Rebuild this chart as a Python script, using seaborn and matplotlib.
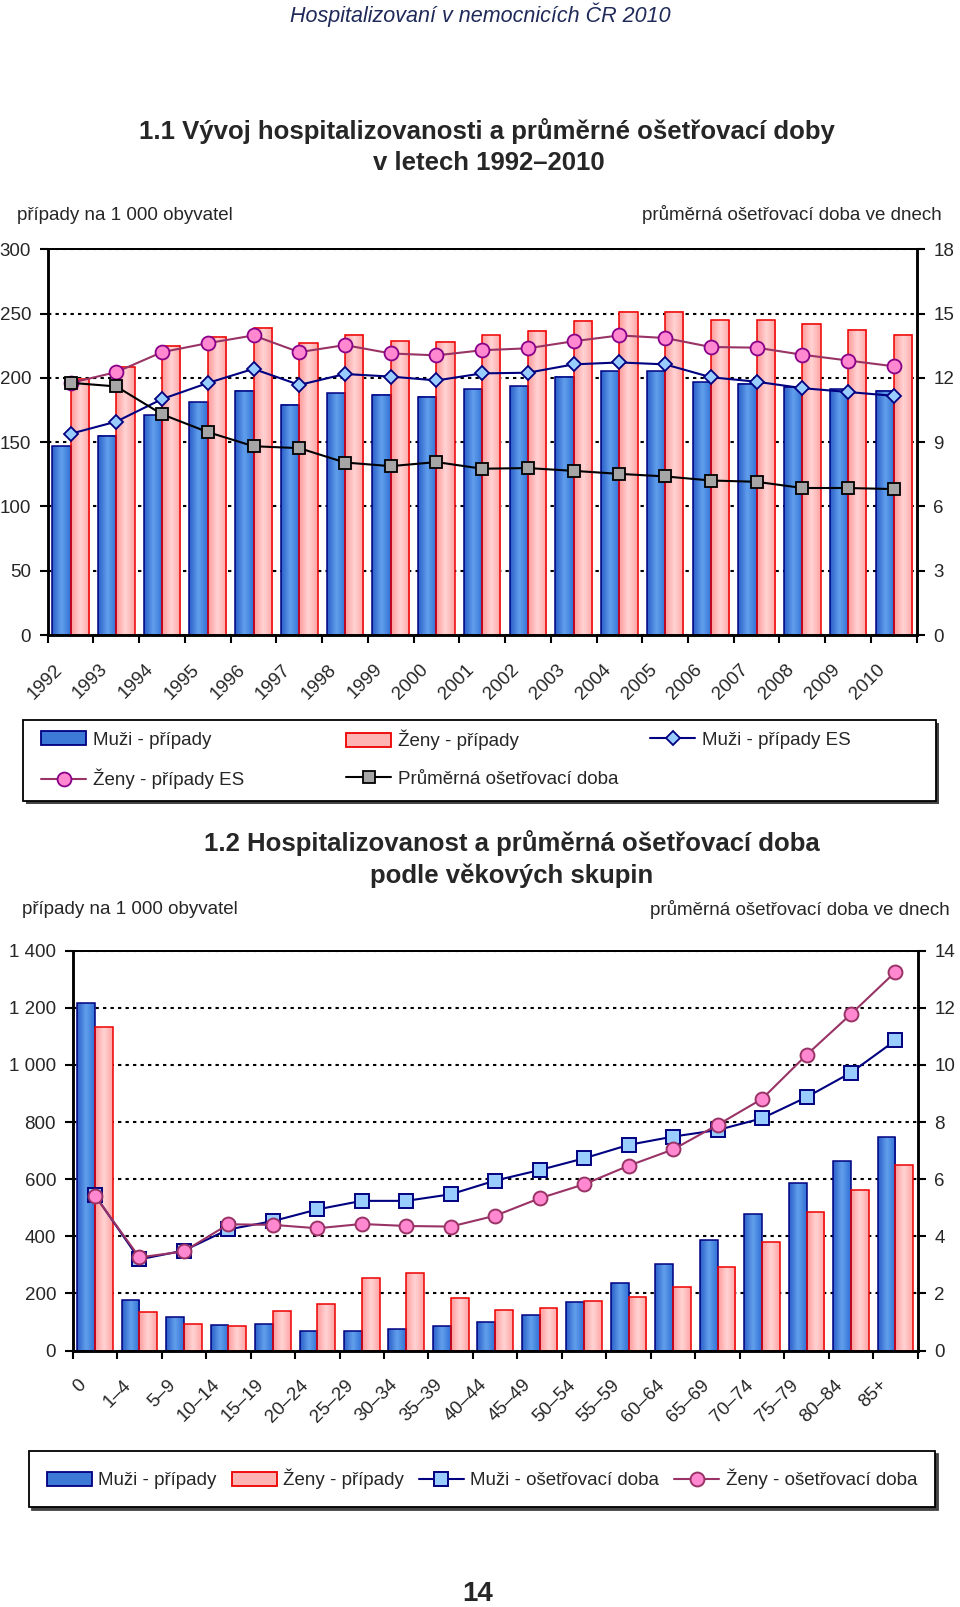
import numpy as np
import pandas as pd
import matplotlib
matplotlib.use("Agg")
import matplotlib.pyplot as plt
from matplotlib.colors import LinearSegmentedColormap
from matplotlib.patches import Patch, Rectangle
from matplotlib.lines import Line2D
from matplotlib.transforms import ScaledTranslation
import seaborn as sns

# --- data: 1.1 development 1992-2010 ---
roky = ['1992', '1993', '1994', '1995', '1996', '1997', '1998', '1999', '2000', '2001',
        '2002', '2003', '2004', '2005', '2006', '2007', '2008', '2009', '2010']
muzi_pripady = [147, 155, 171, 181, 190, 179, 188, 187, 185.5, 191,
                193.5, 201, 205, 205, 196.5, 195.5, 193, 191, 190]
zeny_pripady = [199.5, 208.5, 225, 232, 239, 227, 233.5, 228.5, 228, 233,
                236.5, 244.5, 251.5, 251.5, 245, 245, 242, 237.5, 233.5]
muzi_es = [156.5, 166, 183.5, 196, 207, 194.5, 203, 201, 198, 203.5,
           204, 210.5, 212, 210.5, 200.5, 197, 192, 189, 186]
zeny_es = [196, 204.5, 220, 227, 233, 220, 225.5, 219, 217.5, 221.5,
           223, 228.5, 233, 231, 224, 223.5, 218, 213.5, 209]
prum_doba = [11.77, 11.6, 10.3, 9.47, 8.81, 8.72, 8.05, 7.88, 8.07, 7.76,
             7.79, 7.66, 7.52, 7.40, 7.21, 7.15, 6.86, 6.86, 6.81]

# --- data: 1.2 by age group ---
vek = ['0', '1–4', '5–9', '10–14', '15–19', '20–24', '25–29', '30–34', '35–39', '40–44',
       '45–49', '50–54', '55–59', '60–64', '65–69', '70–74', '75–79', '80–84', '85+']
muzi_vek = [1218, 177, 116, 89, 93, 70, 69, 77, 86, 100,
            123, 171, 235, 303, 387, 478, 585, 664, 747]
zeny_vek = [1134, 135, 93, 85, 138, 163, 255, 272, 184, 143,
            150, 173, 186, 223, 291, 379, 486, 562, 649]
muzi_doba_vek = [5.44, 3.19, 3.50, 4.24, 4.53, 4.94, 5.24, 5.24, 5.47, 5.95,
                 6.32, 6.73, 7.20, 7.49, 7.72, 8.13, 8.87, 9.73, 10.86]
zeny_doba_vek = [5.42, 3.26, 3.47, 4.42, 4.40, 4.28, 4.43, 4.36, 4.34, 4.72,
                 5.33, 5.82, 6.47, 7.04, 7.90, 8.81, 10.35, 11.78, 13.26]

W, H = 960, 1607
NAVY = '#000080'
RED = '#ee0000'
PLUM = '#993366'
BLUE_GRAD = ['#2a5ec8', '#62a0ec', '#3270d6']
PINK_GRAD = ['#ff9a9a', '#ffd4d4', '#ffa4a4']
FS = 13.5
TITLE_FS = 18.5

sns.set_style("ticks")
plt.rcParams['font.family'] = ['Liberation Sans', 'DejaVu Sans']


def fx(x):
    return x / W


def fy(y):
    return 1 - y / H


def gradient_bars(ax, container, colors, edge):
    '''
    replaces flat bar fill by a horizontal gradient like the excel original
    '''
    cmap = LinearSegmentedColormap.from_list('g', colors)
    grad = np.linspace(0, 1, 64).reshape(1, -1)
    for bar in container:
        x0, y0 = bar.get_x(), bar.get_y()
        w, h = bar.get_width(), bar.get_height()
        ax.imshow(grad, extent=[x0, x0 + w, y0, y0 + h], aspect='auto',
                  cmap=cmap, zorder=0.9, interpolation='bicubic')
        bar.set_facecolor('none')
        bar.set_edgecolor(edge)
        bar.set_linewidth(1.1)
        bar.set_zorder(1)


def style_axes(ax, ax2, ylim, yticks, ylim2, yticks2, labels):
    n = len(labels)
    ax.set_xlim(-0.5, n - 0.5)
    ax.set_ylim(*ylim)
    ax.set_yticks(yticks)
    ax2.set_ylim(*ylim2)
    ax2.set_yticks(yticks2)
    ax.set_xticks(np.arange(n))
    ax.set_xticklabels(labels)
    ax.set_xticks(np.arange(-0.5, n, 1), minor=True)
    ax.set_xlabel('')
    ax.set_ylabel('')
    ax2.set_xlabel('')
    ax2.set_ylabel('')
    ax.yaxis.grid(True, color='black', linewidth=1.5, linestyle=(0, (1.6, 2.0)))
    ax.xaxis.grid(False)
    ax.set_axisbelow(True)
    for a in (ax, ax2):
        for s in a.spines.values():
            s.set_visible(True)
            s.set_color('black')
            s.set_linewidth(1.8)
    ax.spines['top'].set_linewidth(1.3)
    ax2.spines['top'].set_linewidth(1.3)
    ax.tick_params(axis='y', direction='out', length=5.5, width=1.5, color='black',
                   labelsize=FS, pad=6.5)
    ax2.tick_params(axis='y', direction='out', length=5.5, width=1.5, color='black',
                    labelsize=FS, pad=6.5)
    ax.tick_params(axis='x', which='major', length=0, labelsize=FS, pad=23)
    ax.tick_params(axis='x', which='minor', direction='out', length=6, width=1.5, color='black')
    off = ScaledTranslation(-8 / 72, 0, ax.figure.dpi_scale_trans)
    for lbl in ax.get_xticklabels():
        lbl.set_rotation(45)
        lbl.set_ha('right')
        lbl.set_va('center')
        lbl.set_rotation_mode('anchor')
        lbl.set_transform(lbl.get_transform() + off)


fig = plt.figure(figsize=(W / 100, H / 100), dpi=100)
fig.patch.set_facecolor('white')

# ---------------- chart 1.1 ----------------
ax = fig.add_axes([fx(47.7), fy(635), fx(916.7) - fx(47.7), fy(249.3) - fy(635)])
df1 = pd.DataFrame({'rok': roky * 2,
                    'pripady': muzi_pripady + zeny_pripady,
                    'skupina': ['Muži - případy'] * len(roky) + ['Ženy - případy'] * len(roky)})
sns.barplot(data=df1, x='rok', y='pripady', hue='skupina', palette=['#4a86dc', '#ffb4b4'],
            saturation=1, errorbar=None, width=0.8, legend=False, ax=ax)
gradient_bars(ax, ax.containers[0], BLUE_GRAD, NAVY)
gradient_bars(ax, ax.containers[1], PINK_GRAD, RED)

pos = np.arange(len(roky))
sns.lineplot(x=pos, y=muzi_es, ax=ax, color=NAVY, linewidth=1.5, marker='D', markersize=7.5,
             markerfacecolor='#99ccff', markeredgecolor=NAVY, markeredgewidth=1.3, zorder=5)
sns.lineplot(x=pos, y=zeny_es, ax=ax, color=PLUM, linewidth=1.5, marker='o', markersize=10,
             markerfacecolor='#ff88d0', markeredgecolor='#880088', markeredgewidth=1.3, zorder=6)
ax2 = ax.twinx()
sns.lineplot(x=pos, y=prum_doba, ax=ax2, color='black', linewidth=1.5, marker='s', markersize=8,
             markerfacecolor='#a6a6a6', markeredgecolor='black', markeredgewidth=1.3, zorder=5)
style_axes(ax, ax2, (0, 300), np.arange(0, 301, 50), (0, 18), np.arange(0, 19, 3), roky)

# ---------------- chart 1.2 ----------------
bx = fig.add_axes([fx(72.7), fy(1350.5), fx(917.7) - fx(72.7), fy(950.7) - fy(1350.5)])
df2 = pd.DataFrame({'vek': vek * 2,
                    'pripady': muzi_vek + zeny_vek,
                    'skupina': ['Muži - případy'] * len(vek) + ['Ženy - případy'] * len(vek)})
sns.barplot(data=df2, x='vek', y='pripady', hue='skupina', palette=['#4a86dc', '#ffb4b4'],
            saturation=1, errorbar=None, width=0.8, legend=False, ax=bx)
gradient_bars(bx, bx.containers[0], BLUE_GRAD, NAVY)
gradient_bars(bx, bx.containers[1], PINK_GRAD, RED)
bx2 = bx.twinx()
pos2 = np.arange(len(vek))
sns.lineplot(x=pos2, y=muzi_doba_vek, ax=bx2, color=NAVY, linewidth=1.5, marker='s', markersize=9.5,
             markerfacecolor='#99ccff', markeredgecolor=NAVY, markeredgewidth=1.4, zorder=5)
sns.lineplot(x=pos2, y=zeny_doba_vek, ax=bx2, color=PLUM, linewidth=1.5, marker='o', markersize=10,
             markerfacecolor='#ff88d0', markeredgecolor=PLUM, markeredgewidth=1.4, zorder=6)
style_axes(bx, bx2, (0, 1400), np.arange(0, 1401, 200), (0, 14), np.arange(0, 15, 2), vek)
bx.set_yticklabels([f'{v:,}'.replace(',', ' ') for v in range(0, 1401, 200)])

# ---------------- texts ----------------
fig.text(fx(480), fy(15), 'Hospitalizovaní v nemocnicích ČR 2010', ha='center', va='center',
         fontsize=15.5, style='italic', color='#1f2a5a')
fig.text(fx(487), fy(131), '1.1 Vývoj hospitalizovanosti a průměrné ošetřovací doby',
         ha='center', va='center', fontsize=TITLE_FS, weight='bold')
fig.text(fx(489), fy(163), 'v letech 1992–2010', ha='center', va='center', fontsize=TITLE_FS, weight='bold')
fig.text(fx(17), fy(215), 'případy na 1 000 obyvatel', ha='left', va='center', fontsize=FS)
fig.text(fx(942), fy(215), 'průměrná ošetřovací doba ve dnech', ha='right', va='center', fontsize=FS)

fig.text(fx(512), fy(843), '1.2 Hospitalizovanost a průměrná ošetřovací doba',
         ha='center', va='center', fontsize=TITLE_FS, weight='bold')
fig.text(fx(512), fy(876), 'podle věkových skupin', ha='center', va='center', fontsize=TITLE_FS, weight='bold')
fig.text(fx(22.5), fy(909), 'případy na 1 000 obyvatel', ha='left', va='center', fontsize=FS)
fig.text(fx(950), fy(909), 'průměrná ošetřovací doba ve dnech', ha='right', va='center', fontsize=FS)

fig.text(fx(478), fy(1594), '14', ha='center', va='center', fontsize=20, weight='bold')

# ---------------- legend 1.1 (framed box, 3 columns) ----------------
fig.add_artist(Rectangle((fx(25.5), fy(804)), fx(936) - fx(22.5), (801 - 720) / H,
                         transform=fig.transFigure, facecolor='#444444', edgecolor='none', zorder=0))
fig.add_artist(Rectangle((fx(22.5), fy(801)), fx(936) - fx(22.5), (801 - 720) / H,
                         transform=fig.transFigure, facecolor='white', edgecolor='black',
                         linewidth=1.3, zorder=0.5))
bar_m = Patch(facecolor='#3d7ad8', edgecolor=NAVY, linewidth=1.3)
bar_z = Patch(facecolor='#ffb4b4', edgecolor=RED, linewidth=1.3)
h_mes = Line2D([], [], color=NAVY, linewidth=1.5, marker='D', markersize=7.5,
               markerfacecolor='#99ccff', markeredgecolor=NAVY, markeredgewidth=1.3)
h_zes = Line2D([], [], color=PLUM, linewidth=1.5, marker='o', markersize=10,
               markerfacecolor='#ff88d0', markeredgecolor='#880088', markeredgewidth=1.3)
h_doba = Line2D([], [], color='black', linewidth=1.5, marker='s', markersize=8,
                markerfacecolor='#a6a6a6', markeredgecolor='black', markeredgewidth=1.3)
items = [(bar_m, 'Muži - případy', 41, 740), (bar_z, 'Ženy - případy', 346, 740),
         (h_mes, 'Muži - případy ES', 650, 740), (h_zes, 'Ženy - případy ES', 41, 779),
         (h_doba, 'Průměrná ošetřovací doba', 346, 779)]
for handle, label, x, y in items:
    fig.legend(handles=[handle], labels=[label], loc='center left', bbox_to_anchor=(fx(x), fy(y)),
               frameon=False, borderpad=0, borderaxespad=0, handlelength=2.4, handleheight=0.75,
               handletextpad=0.35, fontsize=FS)

# ---------------- legend 1.2 ----------------
h_md = Line2D([], [], color=NAVY, linewidth=1.5, marker='s', markersize=9.5,
              markerfacecolor='#99ccff', markeredgecolor=NAVY, markeredgewidth=1.4)
h_zd = Line2D([], [], color=PLUM, linewidth=1.5, marker='o', markersize=10,
              markerfacecolor='#ff88d0', markeredgecolor=PLUM, markeredgewidth=1.4)
leg = fig.legend(handles=[bar_m, bar_z, h_md, h_zd],
                 labels=['Muži - případy', 'Ženy - případy', 'Muži - ošetřovací doba', 'Ženy - ošetřovací doba'],
                 ncol=4, loc='center', mode='expand',
                 bbox_to_anchor=(fx(29), fy(1508), fx(935) - fx(29), (1508 - 1450) / H),
                 fancybox=False, edgecolor='black', framealpha=1, shadow={'color': '#444444', 'alpha': 1},
                 borderpad=0.95, borderaxespad=0, handlelength=2.4, handleheight=0.75, handletextpad=0.35,
                 columnspacing=1.0, fontsize=FS)
leg.get_frame().set_linewidth(1.3)

fig.savefig('out.png', dpi=100, facecolor='white')
